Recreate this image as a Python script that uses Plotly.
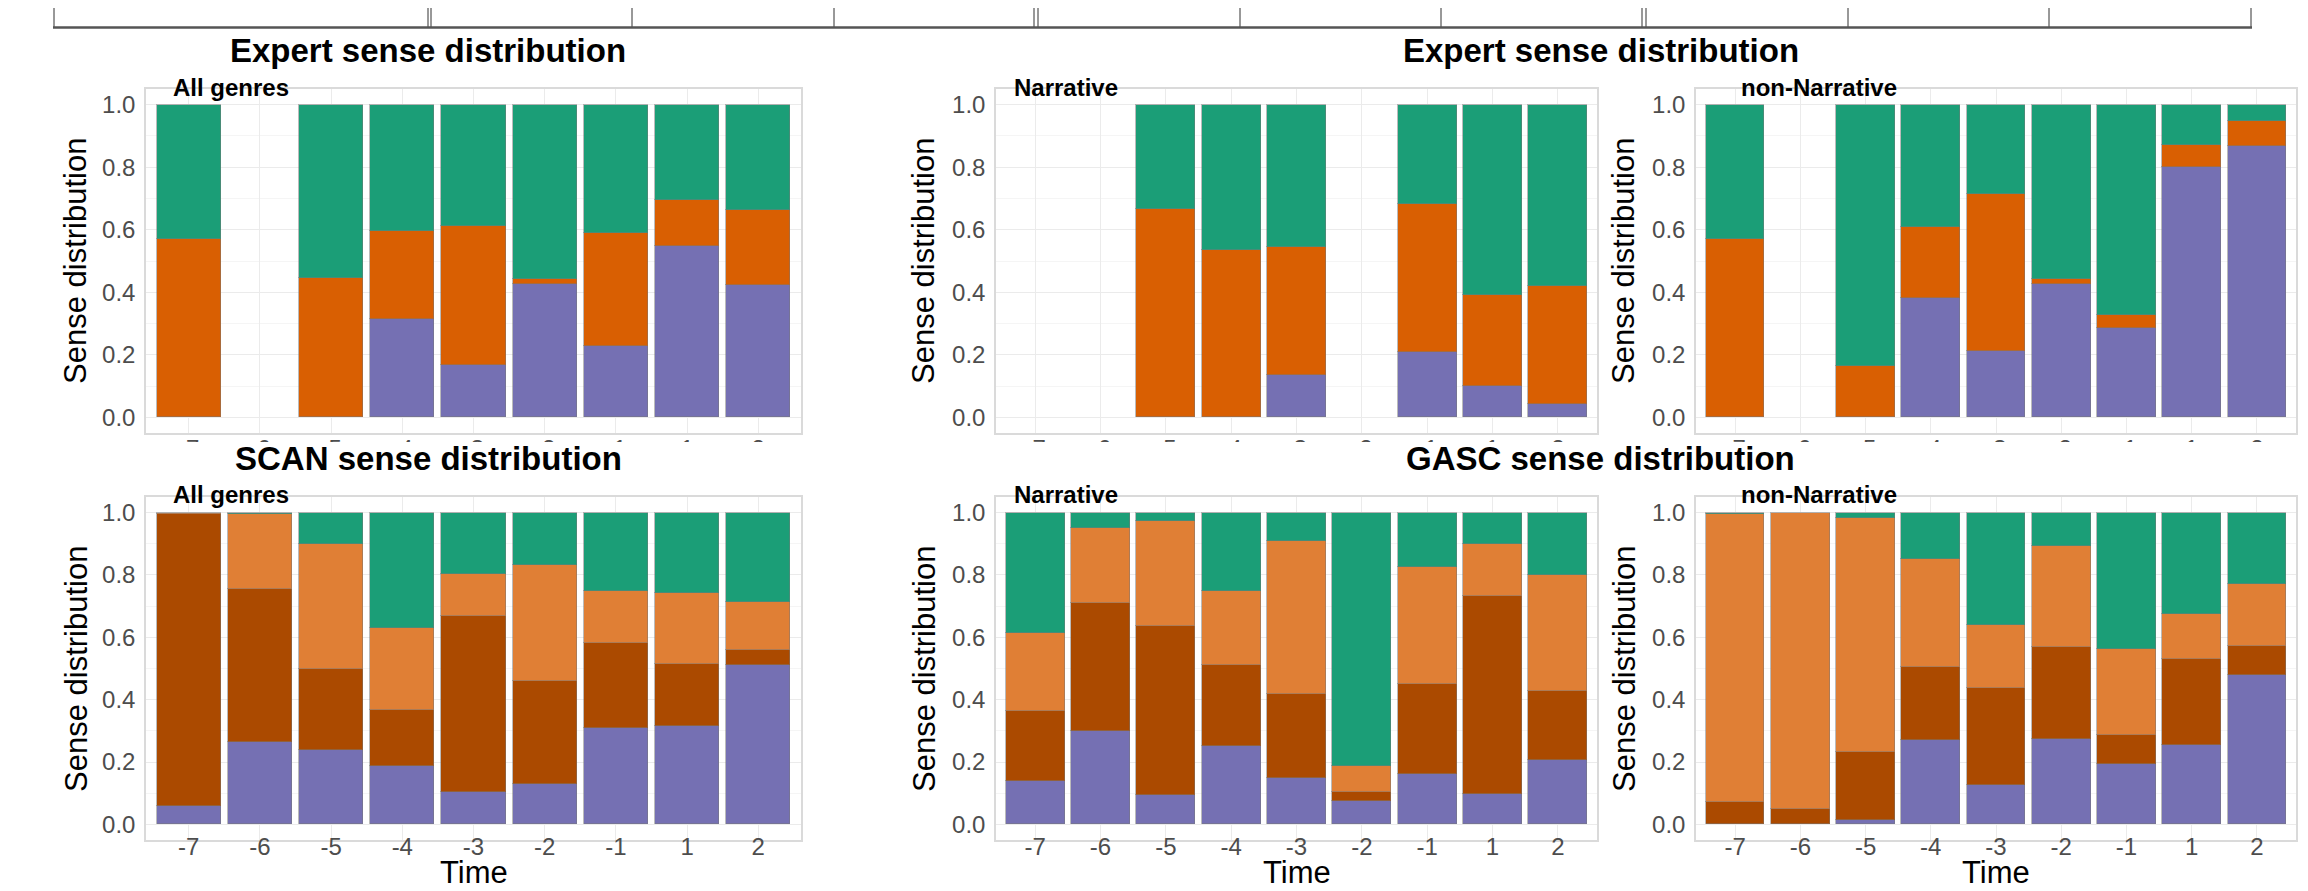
import plotly.graph_objects as go

W, H = 2308, 891

# ---------------- data ----------------
times = ["-7", "-6", "-5", "-4", "-3", "-2", "-1", "1", "2"]

# Expert sense distribution (3 senses: purple bottom, orange middle, green top)
exp_all_purple = [None, None, None, 0.313, 0.166, 0.426, 0.229, 0.547, 0.422]
exp_all_orange = [0.570, None, 0.445, 0.283, 0.445, 0.015, 0.362, 0.149, 0.241]
exp_all_green = [0.430, None, 0.555, 0.404, 0.389, 0.559, 0.409, 0.304, 0.337]

exp_nar_purple = [None, None, None, None, 0.134, None, 0.210, 0.101, 0.044]
exp_nar_orange = [None, None, 0.665, 0.535, 0.411, None, 0.473, 0.289, 0.377]
exp_nar_green = [None, None, 0.335, 0.465, 0.455, None, 0.317, 0.610, 0.579]

exp_non_purple = [None, None, None, 0.383, 0.213, 0.426, 0.286, 0.802, 0.869]
exp_non_orange = [0.570, None, 0.165, 0.225, 0.501, 0.015, 0.040, 0.069, 0.078]
exp_non_green = [0.430, None, 0.835, 0.392, 0.286, 0.559, 0.674, 0.129, 0.053]

# SCAN / GASC sense distribution (4 senses)
scan_all_purple = [0.060, 0.265, 0.238, 0.188, 0.105, 0.131, 0.308, 0.315, 0.511]
scan_all_brown = [0.934, 0.491, 0.259, 0.179, 0.564, 0.328, 0.273, 0.199, 0.047]
scan_all_lorange = [0.006, 0.238, 0.402, 0.262, 0.135, 0.372, 0.167, 0.228, 0.155]
scan_all_green = [None, 0.006, 0.101, 0.371, 0.196, 0.169, 0.252, 0.258, 0.287]

gasc_nar_purple = [0.138, 0.299, 0.095, 0.250, 0.150, 0.076, 0.163, 0.098, 0.206]
gasc_nar_brown = [0.227, 0.411, 0.542, 0.261, 0.267, 0.028, 0.286, 0.635, 0.221]
gasc_nar_lorange = [0.249, 0.240, 0.336, 0.237, 0.491, 0.084, 0.375, 0.166, 0.373]
gasc_nar_green = [0.386, 0.050, 0.027, 0.252, 0.092, 0.812, 0.176, 0.101, 0.200]

gasc_non_purple = [None, None, 0.015, 0.272, 0.125, 0.275, 0.193, 0.256, 0.478]
gasc_non_brown = [0.071, 0.048, 0.218, 0.234, 0.314, 0.293, 0.094, 0.273, 0.093]
gasc_non_lorange = [0.926, 0.952, 0.750, 0.344, 0.201, 0.326, 0.276, 0.145, 0.199]
gasc_non_green = [0.003, None, 0.017, 0.150, 0.360, 0.106, 0.437, 0.326, 0.230]

panel_titles = ["Expert sense distribution", "Expert sense distribution",
                "SCAN sense distribution", "GASC sense distribution"]
genre_labels = ["All genres", "Narrative", "non-Narrative",
                "All genres", "Narrative", "non-Narrative"]

# ---------------- styling ----------------
GREEN, ORANGE, PURPLE = "#1B9E77", "#D95F02", "#7570B3"
LORANGE, BROWN = "#E07F35", "#AB4A00"
FONT = "Liberation Sans, Arial, Helvetica, sans-serif"


def px_x(p):
    return p / W


def px_y(p):
    return 1 - p / H


xdom = [(138, 793), (988, 1589), (1688, 2288)]
ydom = [(81, 425), (489, 832)]

panels = [
    [(exp_all_purple, PURPLE), (exp_all_orange, ORANGE), (exp_all_green, GREEN)],
    [(exp_nar_purple, PURPLE), (exp_nar_orange, ORANGE), (exp_nar_green, GREEN)],
    [(exp_non_purple, PURPLE), (exp_non_orange, ORANGE), (exp_non_green, GREEN)],
    [(scan_all_purple, PURPLE), (scan_all_brown, BROWN), (scan_all_lorange, LORANGE), (scan_all_green, GREEN)],
    [(gasc_nar_purple, PURPLE), (gasc_nar_brown, BROWN), (gasc_nar_lorange, LORANGE), (gasc_nar_green, GREEN)],
    [(gasc_non_purple, PURPLE), (gasc_non_brown, BROWN), (gasc_non_lorange, LORANGE), (gasc_non_green, GREEN)],
]

fig = go.Figure()
xpos = list(range(len(times)))

for i, series in enumerate(panels):
    ax = "" if i == 0 else str(i + 1)
    for vals, col in series:
        fig.add_trace(go.Bar(
            x=xpos, y=vals, width=0.9, xaxis="x" + ax, yaxis="y" + ax,
            marker=dict(color=col, line=dict(color="rgba(120,120,120,0.5)", width=1)),
            showlegend=False, hoverinfo="skip",
        ))
    row, colidx = divmod(i, 3)
    x0, x1 = xdom[colidx]
    y0, y1 = ydom[row]
    fig.layout["xaxis" + ax] = dict(
        domain=[px_x(x0), px_x(x1)], anchor="y" + ax, range=[-0.6, 8.6],
        tickvals=xpos, ticktext=times, showgrid=True, gridcolor="#EBEBEB", gridwidth=1,
        zeroline=False, showline=True, mirror=True, linecolor="#DADADA", linewidth=1.5,
        ticks="", ticklabelstandoff=-7 if row == 0 else -16,
        tickfont=dict(family=FONT, size=24, color="#4D4D4D"), fixedrange=True,
    )
    fig.layout["yaxis" + ax] = dict(
        domain=[px_y(y1), px_y(y0)], anchor="x" + ax, range=[-0.05, 1.05],
        tickvals=[0, 0.2, 0.4, 0.6, 0.8, 1.0], tickformat=".1f",
        showgrid=True, gridcolor="#EBEBEB", gridwidth=1,
        minor=dict(tickvals=[0.1, 0.3, 0.5, 0.7, 0.9], showgrid=True, gridcolor="#F5F5F5", gridwidth=1),
        zeroline=False, showline=True, mirror=True, linecolor="#DADADA", linewidth=1.5,
        ticks="", ticklabelstandoff=4,
        tickfont=dict(family=FONT, size=24, color="#4D4D4D"), fixedrange=True,
    )

annotations = []


def ann(text, x, y, size, bold=False, angle=0, xanchor="center", yanchor="middle", color="black"):
    annotations.append(dict(
        text="<b>%s</b>" % text if bold else text, x=px_x(x), y=px_y(y),
        xref="paper", yref="paper", xanchor=xanchor, yanchor=yanchor,
        showarrow=False, textangle=angle,
        font=dict(family=FONT, size=size, color=color),
    ))


# panel titles
ann(panel_titles[0], 420, 42, 33, bold=True)
ann(panel_titles[1], 1593, 42, 33, bold=True)
ann(panel_titles[2], 421, 450, 33, bold=True)
ann(panel_titles[3], 1593, 450, 33, bold=True)

# genre labels
gx = [163, 1004, 1731]
for i, lab in enumerate(genre_labels):
    row, colidx = divmod(i, 3)
    ann(lab, gx[colidx], 79 + row * 408, 24, bold=True, xanchor="left")

# axis titles
yx = [68, 916, 1616]
for row in range(2):
    for c in range(3):
        ann("Sense distribution", yx[c], 253 + row * 408, 31, angle=-90)
for c in range(3):
    ann("Time", (xdom[c][0] + xdom[c][1]) / 2, 864, 31)

shapes = []
# table frame remnant at the top
vlines = [46, 420, 423, 624, 826, 1026, 1030, 1232, 1433, 1634, 1638, 1840, 2041, 2243]
for xv in vlines:
    shapes.append(dict(type="line", xref="paper", yref="paper",
                       x0=px_x(xv), x1=px_x(xv), y0=px_y(0), y1=px_y(19),
                       line=dict(color="#333333", width=1)))
shapes.append(dict(type="line", xref="paper", yref="paper",
                   x0=px_x(45), x1=px_x(2244), y0=px_y(19.5), y1=px_y(19.5),
                   line=dict(color="#555555", width=2.5)))
# lower panel row background overlapping the upper row's tick labels
shapes.append(dict(type="rect", xref="paper", yref="paper", layer="above",
                   x0=0, x1=1, y0=px_y(480), y1=px_y(434),
                   fillcolor="white", line=dict(width=0)))

fig.update_layout(
    width=W, height=H, margin=dict(l=0, r=0, t=0, b=0),
    paper_bgcolor="white", plot_bgcolor="white", barmode="stack", bargap=0,
    annotations=annotations, shapes=shapes, showlegend=False,
    font=dict(family=FONT),
)

fig.write_html("out.html", config={"displayModeBar": False})
